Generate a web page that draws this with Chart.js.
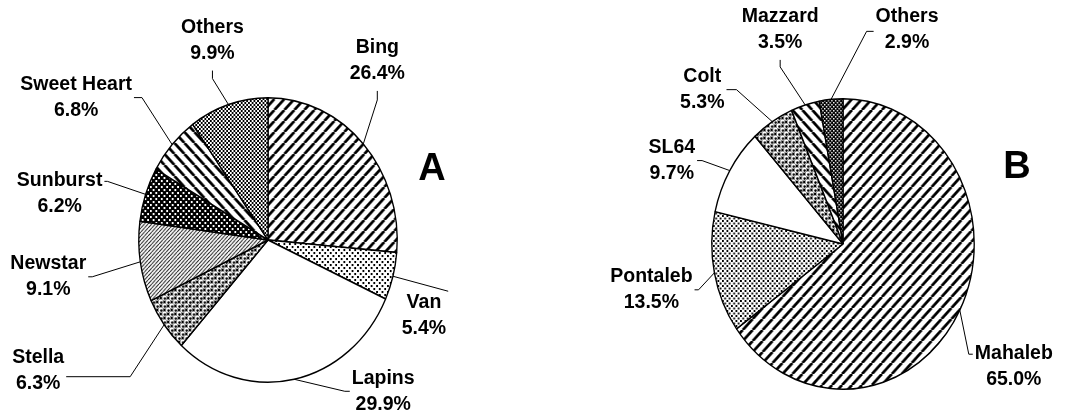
<!DOCTYPE html>
<html>
<head>
<meta charset="utf-8">
<title>Cherry cultivars and rootstocks</title>
<script src="https://cdn.jsdelivr.net/npm/chart.js@4/dist/chart.umd.min.js"></script>
<style>
  html, body { margin: 0; padding: 0; background: #fff; }
  #wrap { position: relative; width: 1068px; height: 416px; overflow: hidden; }
  .panel { position: absolute; top: 0; width: 534px; height: 416px; }
</style>
</head>
<body>
<div id="wrap">
  <div class="panel" style="left:0"><canvas id="pieA" width="534" height="416"></canvas></div>
  <div class="panel" style="left:534px"><canvas id="pieB" width="534" height="416"></canvas></div>
</div>
<script>
// ---- data ----
const cultivars = ['Bing', 'Van', 'Lapins', 'Stella', 'Newstar', 'Sunburst', 'Sweet Heart', 'Others'];
const cultivarShares = [26.4, 5.4, 29.9, 6.3, 9.1, 6.2, 6.8, 9.9];
const rootstocks = ['Mahaleb', 'Pontaleb', 'SL64', 'Colt', 'Mazzard', 'Others'];
const rootstockShares = [65.0, 13.5, 9.7, 5.3, 3.5, 2.9];
const panelTags = ['A', 'B'];

// ---- fill patterns (black & white hatching) ----
function tile(size, draw) {
  const c = document.createElement('canvas');
  c.width = size; c.height = size;
  const g = c.getContext('2d');
  draw(g, size);
  return document.createElement('canvas').getContext('2d').createPattern(c, 'repeat');
}
function stripes(period, lw, up, color) {
  return tile(period, (g, s) => {
    g.fillStyle = '#fff'; g.fillRect(0, 0, s, s);
    g.strokeStyle = color; g.lineWidth = lw;
    g.beginPath();
    for (let i = -1; i <= 1; i++) {
      if (up) { g.moveTo(i * s, s); g.lineTo(i * s + s, 0); }
      else { g.moveTo(i * s, 0); g.lineTo(i * s + s, s); }
    }
    g.stroke();
  });
}
function dots(size, dot, bg, fg) {
  return tile(size, (g, s) => {
    g.fillStyle = bg; g.fillRect(0, 0, s, s);
    g.fillStyle = fg;
    g.fillRect(0, 0, dot, dot);
    g.fillRect(s / 2, s / 2, dot, dot);
  });
}
function bubbles() {
  return tile(8, (g, s) => {
    g.fillStyle = '#000'; g.fillRect(0, 0, s, s);
    const centres = [[2, 2], [6, 6], [10, 2], [-2, 6], [2, 10], [6, -2], [10, 10], [-2, -2]];
    centres.forEach(([x, y]) => {
      g.fillStyle = '#fff';
      g.beginPath(); g.arc(x, y, 2.7, 0, Math.PI * 2); g.fill();
      g.fillStyle = '#000';
      g.beginPath(); g.arc(x + 0.5, y + 0.6, 1.3, 0, Math.PI * 2); g.fill();
    });
  });
}
function checker() {
  return tile(4, (g, s) => {
    g.fillStyle = '#fff'; g.fillRect(0, 0, s, s);
    g.fillStyle = '#000';
    g.fillRect(0, 0, 2, 2); g.fillRect(2, 2, 2, 2);
  });
}

const fillsA = [
  stripes(11, 2.9, true, '#000'),  // Bing
  dots(6, 2, '#fff', '#000'),      // Van
  '#ffffff',                       // Lapins
  bubbles(),                       // Stella
  stripes(4, 1.1, true, '#222'),   // Newstar
  dots(6, 2, '#000', '#fff'),      // Sunburst
  stripes(11, 2.9, false, '#000'), // Sweet Heart
  checker()                        // Others
];
const fillsB = [
  stripes(11, 2.9, true, '#000'),  // Mahaleb
  dots(5, 2, '#fff', '#000'),      // Pontaleb
  '#ffffff',                       // SL64
  bubbles(),                       // Colt
  stripes(11, 2.9, false, '#000'), // Mazzard
  dots(4, 1.5, '#000', '#fff')     // Others
];

// label placement: offset of the label block from the slice's rim point,
// the side of the block the leader leaves from, and a vertical shift of that point
const labelLayoutA = [
  { dx: 14, dy: -83, side: 'B', ay: 0, elbow: 9 },
  { dx: 31, dy: 39, side: 'R', ay: -24, elbow: 0 },
  { dx: 89, dy: 12, side: 'L', ay: 0, elbow: 5 },
  { dx: -126, dy: 46, side: 'R', ay: 6, elbow: 64 },
  { dx: -92, dy: 15, side: 'R', ay: 0, elbow: 4 },
  { dx: -86, dy: -1, side: 'R', ay: -12, elbow: 3 },
  { dx: -96, dy: -47, side: 'R', ay: 0, elbow: 8 },
  { dx: -16, dy: -64, side: 'B', ay: 0, elbow: 8 }
];
const labelLayoutB = [
  { dx: 54, dy: 56, side: 'L', ay: -12, elbow: 4 },
  { dx: -63, dy: 17, side: 'R', ay: 0, elbow: 4 },
  { dx: -58, dy: -10, side: 'R', ay: 0, elbow: 5 },
  { dx: -70, dy: -32, side: 'R', ay: 0, elbow: 10 },
  { dx: -25, dy: -75, side: 'B', ay: 0, elbow: 7 },
  { dx: 76, dy: -70, side: 'L', ay: 2, elbow: 7 }
];

const FONT = 'bold 19.5px "Liberation Sans", Arial, sans-serif';
const LINE_GAP = 26;

// squeeze the round pie horizontally into the oval shape of the figure
const ovalPlugin = {
  id: 'oval',
  beforeDatasetsDraw(chart, args, opts) {
    const arc = chart.getDatasetMeta(0).data[0];
    const ctx = chart.ctx;
    ctx.save();
    ctx.translate(arc.x, 0);
    ctx.scale(opts.sx, 1);
    ctx.translate(-arc.x, 0);
  },
  afterDatasetsDraw(chart) { chart.ctx.restore(); }
};

// two-line labels (name + percentage) with leader lines to each slice
const leaderLabelPlugin = {
  id: 'leaderLabels',
  afterDraw(chart, args, opts) {
    const ctx = chart.ctx;
    const meta = chart.getDatasetMeta(0);
    const names = chart.data.labels;
    const values = chart.data.datasets[0].data;
    ctx.save();
    ctx.font = FONT;
    ctx.fillStyle = '#000';
    ctx.strokeStyle = '#000';
    ctx.lineWidth = 1;
    ctx.textAlign = 'center';
    ctx.textBaseline = 'middle';
    let cx = 0, cy = 0;
    meta.data.forEach((arc, i) => {
      const p = arc.getProps(['x', 'y', 'startAngle', 'endAngle', 'outerRadius'], true);
      cx = p.x; cy = p.y;
      const mid = (p.startAngle + p.endAngle) / 2;
      const ex = p.x + p.outerRadius * opts.sx * Math.cos(mid);
      const ey = p.y + p.outerRadius * Math.sin(mid);
      const L = opts.layout[i];
      const lx = ex + L.dx, ly = ey + L.dy;
      const lines = [names[i], values[i].toFixed(1) + '%'];
      const w = Math.max(...lines.map(t => ctx.measureText(t).width));
      let sx0, sy0, kx, ky;
      if (L.side === 'B') { sx0 = lx; sy0 = ly + 30; kx = lx; ky = sy0 + L.elbow; }
      else if (L.side === 'T') { sx0 = lx; sy0 = ly - 30; kx = lx; ky = sy0 - L.elbow; }
      else if (L.side === 'L') { sx0 = lx - w / 2 - 2; sy0 = ly + L.ay; kx = sx0 - L.elbow; ky = sy0; }
      else { sx0 = lx + w / 2 + 2; sy0 = ly + L.ay; kx = sx0 + L.elbow; ky = sy0; }
      ctx.beginPath();
      ctx.moveTo(sx0, sy0);
      ctx.lineTo(kx, ky);
      ctx.lineTo(ex, ey);
      ctx.stroke();
      ctx.fillText(lines[0], lx, ly - LINE_GAP / 2);
      ctx.fillText(lines[1], lx, ly + LINE_GAP / 2);
    });
    // panel letter
    ctx.font = 'bold 38px "Liberation Sans", Arial, sans-serif';
    ctx.fillText(opts.tag, cx + opts.tagDx, cy + opts.tagDy);
    ctx.restore();
  }
};

function makePie(id, labels, values, fills, pad, sx, layout, tag, tagDx, tagDy) {
  return new Chart(document.getElementById(id), {
    type: 'pie',
    data: {
      labels: labels,
      datasets: [{
        data: values,
        backgroundColor: fills,
        borderColor: '#000',
        borderWidth: 1.5
      }]
    },
    options: {
      responsive: false,
      devicePixelRatio: 1,
      animation: false,
      events: [],
      layout: { padding: pad },
      plugins: {
        legend: { display: false },
        tooltip: { enabled: false },
        oval: { sx: sx },
        leaderLabels: { sx: sx, layout: layout, tag: tag, tagDx: tagDx, tagDy: tagDy }
      }
    },
    plugins: [ovalPlugin, leaderLabelPlugin]
  });
}

makePie('pieA', cultivars, cultivarShares, fillsA,
  { top: 97, bottom: 33, left: 125, right: 123 }, 129 / 142, labelLayoutA, panelTags[0], 164, -70);
makePie('pieB', rootstocks, rootstockShares, fillsB,
  { top: 98, bottom: 26, left: 163, right: 79 }, 131 / 145, labelLayoutB, panelTags[1], 174, -76);
</script>
</body>
</html>
